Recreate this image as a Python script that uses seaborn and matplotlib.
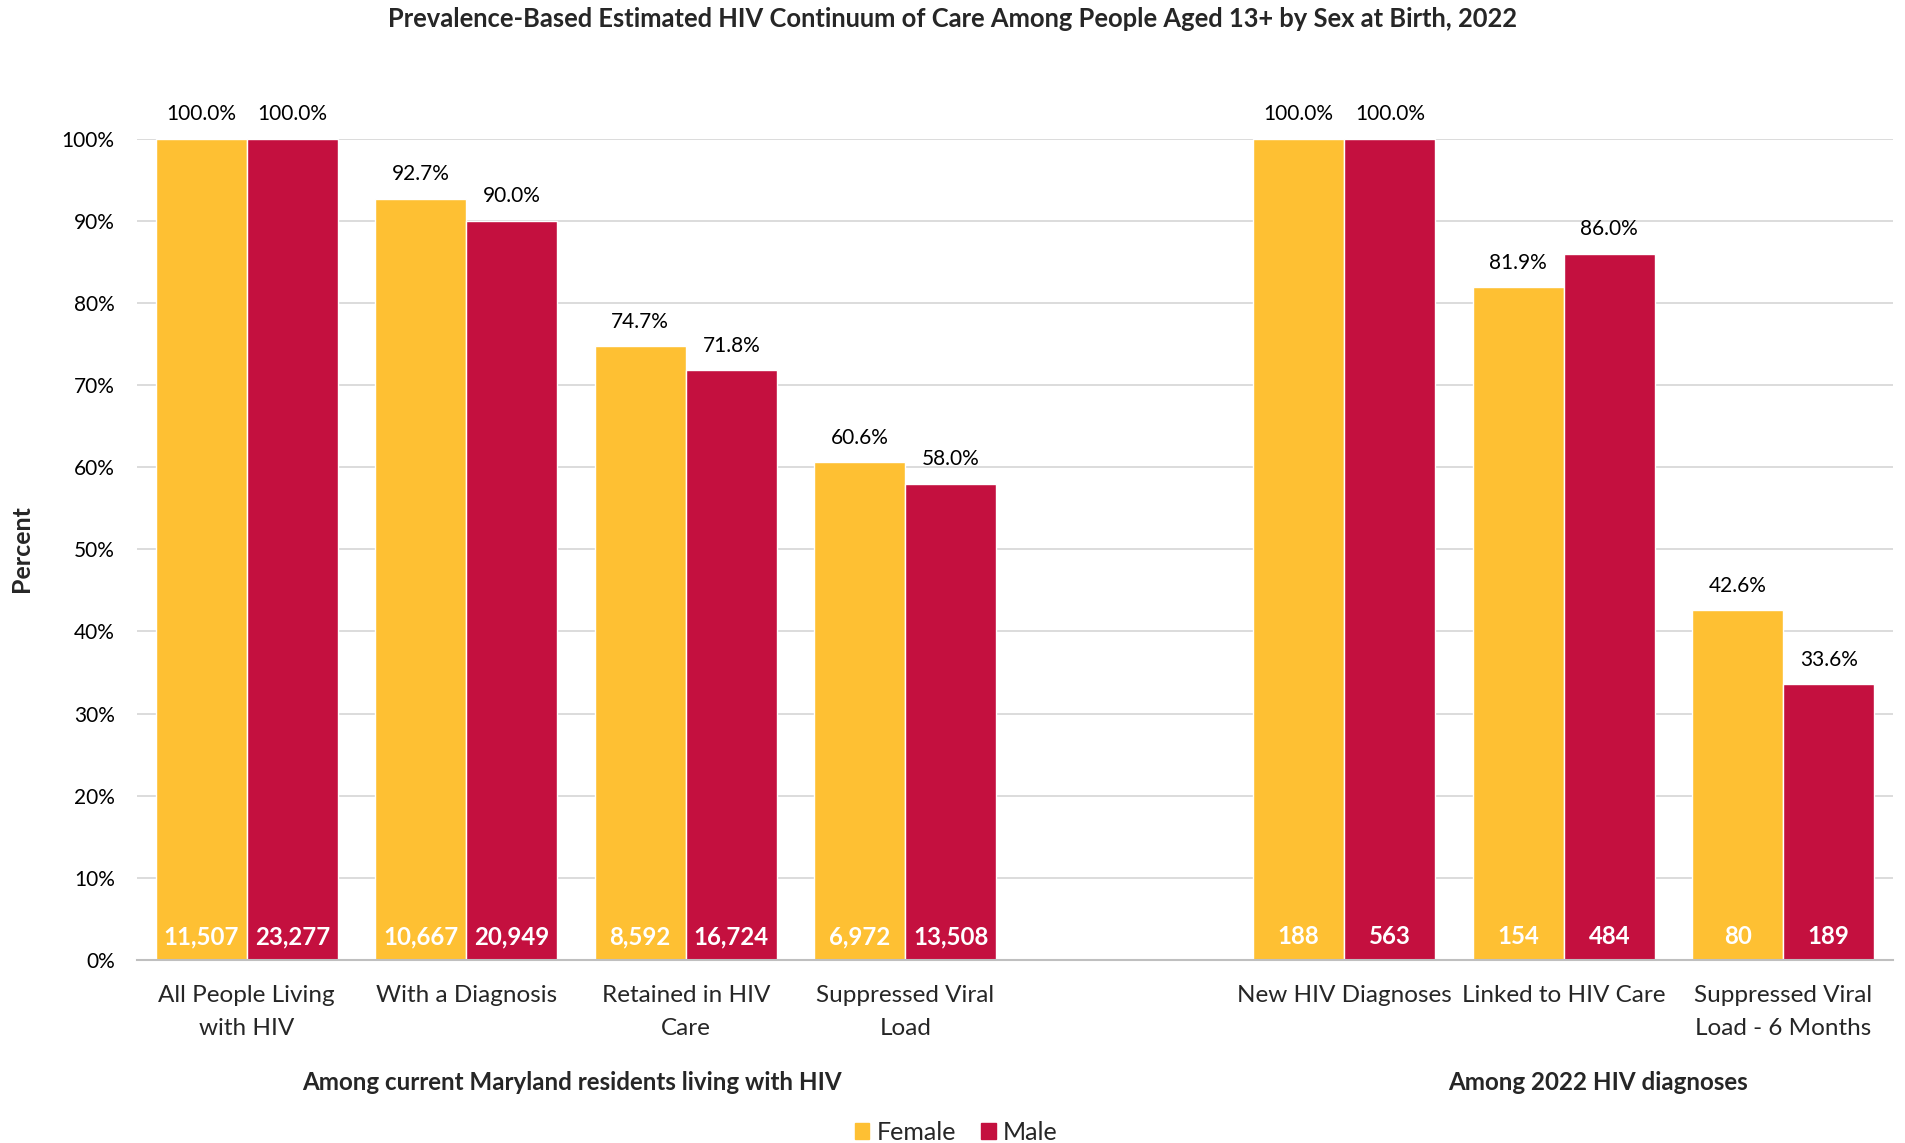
import matplotlib
matplotlib.use("Agg")
import matplotlib.pyplot as plt
import seaborn as sns
import pandas as pd
import numpy as np

categories = ["All People Living\nwith HIV", "With a Diagnosis", "Retained in HIV\nCare",
              "Suppressed Viral\nLoad", " ", "New HIV Diagnoses", "Linked to HIV Care",
              "Suppressed Viral\nLoad - 6 Months"]
data_categories = [c for c in categories if c.strip()]
female_pct = [100.0, 92.7, 74.7, 60.6, 100.0, 81.9, 42.6]
male_pct = [100.0, 90.0, 71.8, 58.0, 100.0, 86.0, 33.6]
female_n = [11507, 10667, 8592, 6972, 188, 154, 80]
male_n = [23277, 20949, 16724, 13508, 563, 484, 189]
series = ["Female", "Male"]
colors = {"Female": "#FEC033", "Male": "#C4103F"}
group_labels = ["Among current Maryland residents living with HIV", "Among 2022 HIV diagnoses"]
title = "Prevalence-Based Estimated HIV Continuum of Care Among People Aged 13+ by Sex at Birth, 2022"

rows = []
for c, fp, mp, fn, mn in zip(data_categories, female_pct, male_pct, female_n, male_n):
    rows.append({"cat": c, "sex": "Female", "pct": fp, "n": fn})
    rows.append({"cat": c, "sex": "Male", "pct": mp, "n": mn})
df = pd.DataFrame(rows)

sns.set_theme(style="white")
FONT = ["Lato", "DejaVu Sans"]
plt.rcParams["font.family"] = FONT

fig = plt.figure(figsize=(19.05, 11.43), dpi=100)
ax = fig.add_axes([0.0719, 0.160, 0.9218, 0.7188])

sns.barplot(data=df, x="cat", y="pct", hue="sex", order=categories, hue_order=series,
            palette=colors, width=0.83, saturation=1, ax=ax, legend=True, errorbar=None)

ax.set_ylim(0, 100)
ax.set_xlim(-0.5, len(categories) - 0.5)
ax.set_yticks(np.arange(0, 101, 10))
ax.set_yticklabels([f"{v}%" for v in range(0, 101, 10)], fontsize=15, color="#000000")
ax.yaxis.grid(True, color="#D9D9D9", linewidth=1.3)
ax.set_axisbelow(True)
for s in ["top", "right", "left"]:
    ax.spines[s].set_visible(False)
ax.spines["bottom"].set_color("#BFBFBF")
ax.spines["bottom"].set_linewidth(1.5)
ax.tick_params(axis="y", length=0, pad=16)

ax.set_xticks(range(len(categories)))
ax.set_xticklabels(categories, fontsize=17.5, linespacing=1.72)
ax.tick_params(axis="x", which="major", length=0, pad=18)
ax.set_xticks(np.arange(-0.5, len(categories), 1.0), minor=True)
ax.tick_params(axis="x", which="minor", length=12, width=1.5, color="#BFBFBF", direction="out")
ax.set_xlabel("")
ax.set_ylabel("")

# labels
lookup = {}
for i, c in enumerate(data_categories):
    lookup[(c, "Female")] = (female_pct[i], female_n[i])
    lookup[(c, "Male")] = (male_pct[i], male_n[i])
for sex, cont in zip(series, ax.containers):
    for bar in cont:
        xc = bar.get_x() + bar.get_width() / 2
        cat = categories[int(round(xc))]
        if (cat, sex) not in lookup:
            continue
        pct, n = lookup[(cat, sex)]
        ax.annotate(f"{pct:.1f}%", (xc, bar.get_height()), xytext=(0, 17.5), textcoords="offset points",
                    ha="center", va="center", fontsize=15, color="#000000")
        ax.annotate(f"{n:,}", (xc, 0), xytext=(0, 17), textcoords="offset points",
                    ha="center", va="center", fontsize=17.3, color="white", fontweight="bold")

leg = ax.get_legend()
if leg is not None:
    leg.remove()
handles = [plt.Rectangle((0, 0), 1, 1, color=colors[s]) for s in series]
fig.legend(handles, series, loc="center", bbox_to_anchor=(0.502, 0.0095), ncol=2, frameon=False,
           fontsize=18, handlelength=0.58, handleheight=0.58, handletextpad=0.3, columnspacing=1.0)

fig.text(0.5, 0.983, title, ha="center", va="center", fontsize=18.4, fontweight="bold")
fig.text(0.0115, 0.52, "Percent", rotation=90, ha="center", va="center", fontsize=18, fontweight="bold")
fig.text(0.3004, 0.0529, group_labels[0], ha="center", va="center", fontsize=17.4, fontweight="bold")
fig.text(0.8387, 0.0529, group_labels[1], ha="center", va="center", fontsize=17.4, fontweight="bold")

fig.savefig("out.png", dpi=100, facecolor="white")
